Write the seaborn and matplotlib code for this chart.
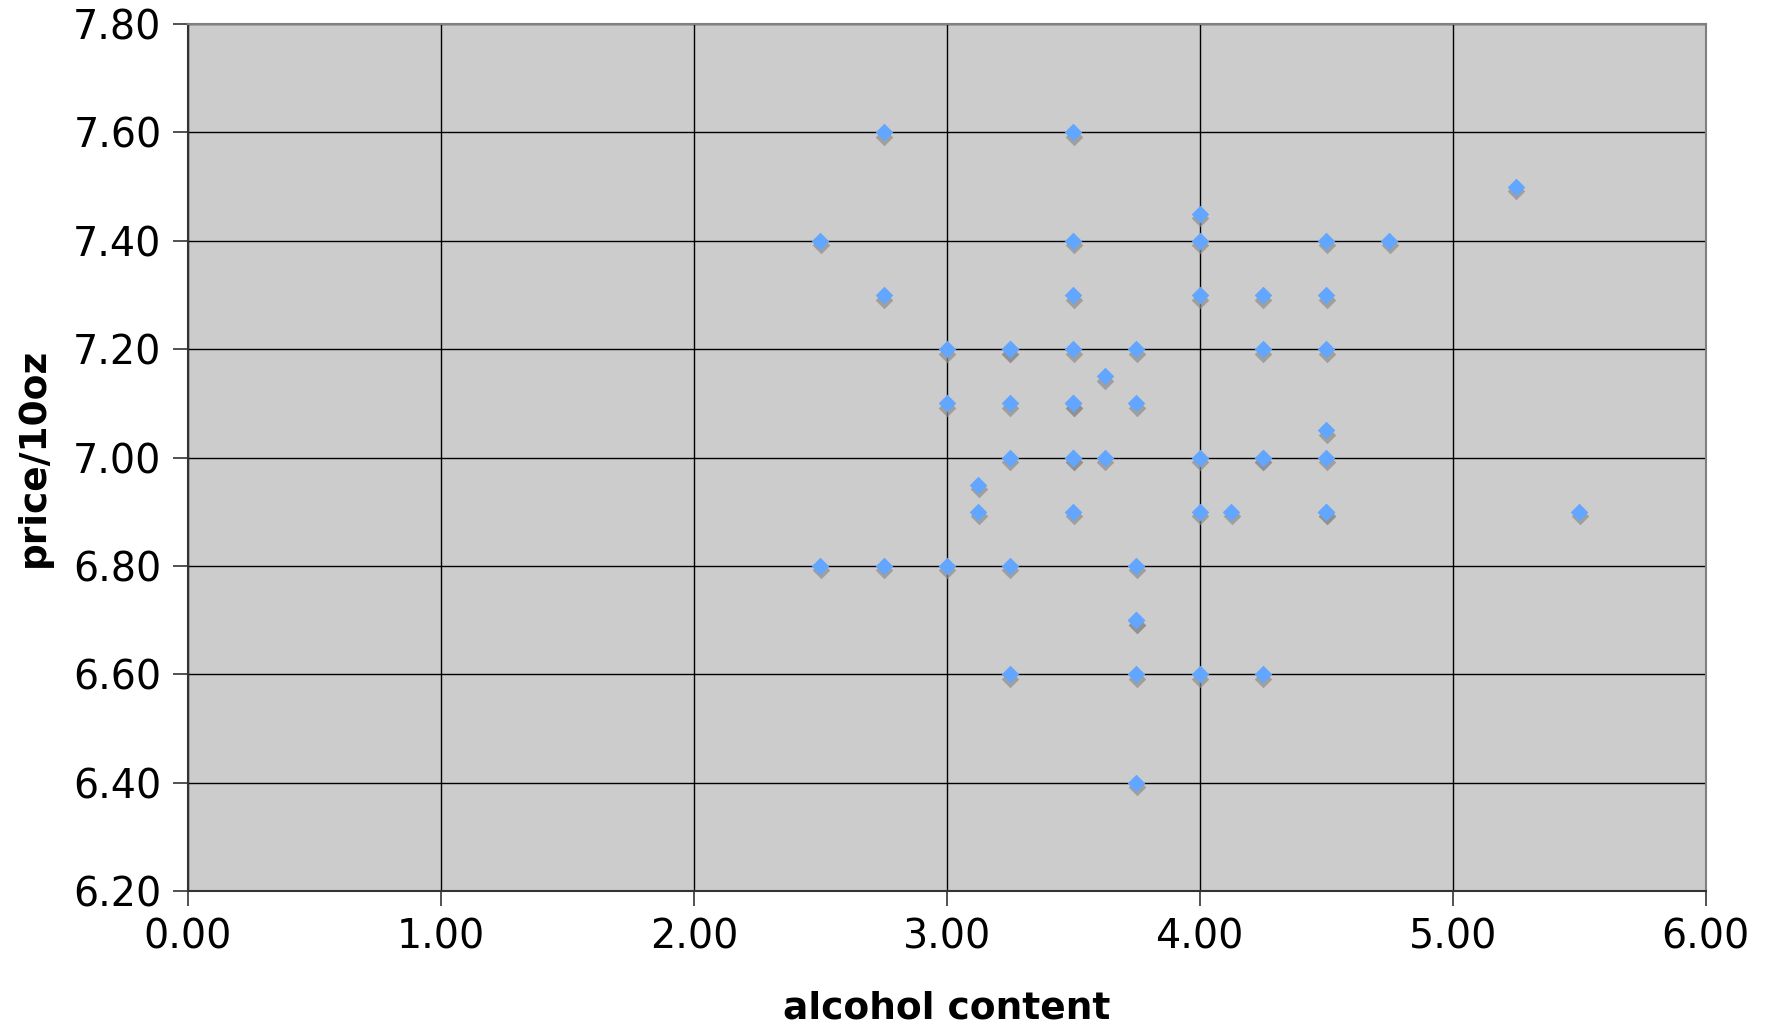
import numpy as np
import pandas as pd
import matplotlib
matplotlib.use("Agg")
from matplotlib import pyplot as plt
from matplotlib import transforms
import seaborn as sb

# alcohol content vs price per 10oz (duplicates repeated)
alcohol = [2.5, 2.5,
	2.75, 2.75, 2.75,
	3.0, 3.0, 3.0,
	3.125, 3.125,
	3.25, 3.25, 3.25, 3.25, 3.25, 3.25,
	3.5, 3.5, 3.5, 3.5, 3.5, 3.5, 3.5, 3.5, 3.5,
	3.625, 3.625,
	3.75, 3.75, 3.75, 3.75, 3.75, 3.75, 3.75,
	4.0, 4.0, 4.0, 4.0, 4.0, 4.0,
	4.125,
	4.25, 4.25, 4.25, 4.25, 4.25,
	4.5, 4.5, 4.5, 4.5, 4.5, 4.5, 4.5,
	4.75, 5.25, 5.5]
price = [7.40, 6.80,
	7.60, 7.30, 6.80,
	7.20, 7.10, 6.80,
	6.95, 6.90,
	7.20, 7.20, 7.10, 7.00, 6.80, 6.60,
	7.60, 7.40, 7.30, 7.20, 7.10, 7.10, 7.00, 7.00, 6.90,
	7.15, 7.00,
	7.20, 7.10, 6.80, 6.70, 6.70, 6.60, 6.40,
	7.45, 7.40, 7.30, 7.00, 6.90, 6.60,
	6.90,
	7.30, 7.20, 7.00, 7.00, 6.60,
	7.40, 7.30, 7.20, 7.05, 7.00, 6.90, 6.90,
	7.40, 7.50, 6.90]

x_ticks = [0, 1, 2, 3, 4, 5, 6]
y_ticks = [6.2, 6.4, 6.6, 6.8, 7.0, 7.2, 7.4, 7.6, 7.8]

df = pd.DataFrame({"alcohol": alcohol, "price": price})

sb.set_style("white", {"axes.facecolor": "#cccccc"})
plt.rcParams["font.family"] = ["DejaVu Sans"]
plt.rcParams["text.color"] = "black"
plt.rcParams["axes.labelcolor"] = "black"

fig = plt.figure(figsize=(17.73, 10.32), dpi=100)
ax = fig.add_axes([0.106, 0.1366, 0.856, 0.8401])

# shadow first, shifted down a bit
sb.scatterplot(data=df, x="alcohol", y="price", ax=ax, marker="D", s=80,
	color="#8c8c8c", alpha=0.7, linewidth=0, zorder=3)
shadow = ax.collections[-1]
shadow.set_offset_transform(ax.transData + transforms.ScaledTranslation(0.3/72, -3.3/72, fig.dpi_scale_trans))

sb.scatterplot(data=df, x="alcohol", y="price", ax=ax, marker="D", s=80,
	color="#62a6ff", linewidth=0, zorder=4)

ax.set_xlim(0, 6)
ax.set_ylim(6.2, 7.8)
ax.set_xticks(x_ticks)
ax.set_yticks(y_ticks)
ax.set_xticklabels(["%.2f" % v for v in x_ticks])
ax.set_yticklabels(["%.2f" % v for v in y_ticks])
ax.grid(True, color="black", linewidth=1.0)
ax.set_axisbelow(True)

ax.tick_params(axis="both", labelsize=28.5, labelcolor="black", length=11, width=1.2, color="#333333",
	direction="out", left=True, bottom=True, pad=8)
for s in ["left", "bottom"]:
	ax.spines[s].set_color("#333333")
	ax.spines[s].set_linewidth(1.5)
for s in ["top", "right"]:
	ax.spines[s].set_color("#808080")
	ax.spines[s].set_linewidth(1.5)

ax.set_xlabel("alcohol content", fontsize=27, fontweight="bold", labelpad=24)
ax.set_ylabel("price/10oz", fontsize=27, fontweight="bold", labelpad=15)

fig.savefig("out.png", dpi=100)
